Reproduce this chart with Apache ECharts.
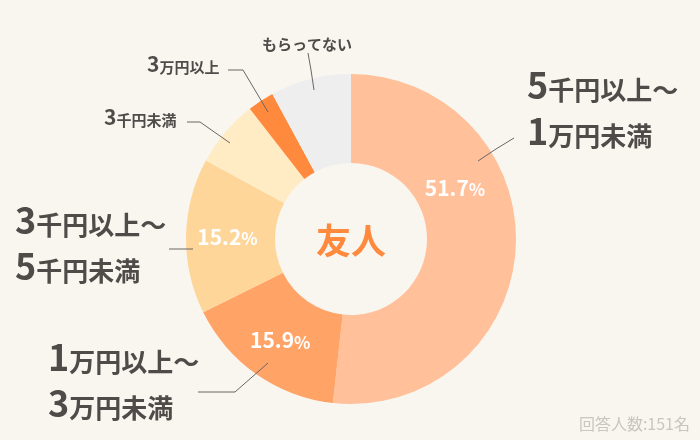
<!DOCTYPE html>
<html lang="ja">

<head>
    <meta charset="UTF-8">
    <title>友人</title>
    <script src="https://cdn.jsdelivr.net/npm/echarts@6/dist/echarts.min.js"></script>
    <style>
        html, body { margin: 0; padding: 0; background: #f9f6f0; }
    </style>
</head>

<body>
    <div id="main" style="width: 700px;height:440px;"></div>
    <script>
        // データ
        var categories = ['5千円以上〜1万円未満', '1万円以上〜3万円未満', '3千円以上〜5千円未満', '3千円未満', '3万円以上', 'もらってない'];
        var values = [51.7, 15.9, 15.2, 6.6, 2.6, 7.9];
        var colors = ['#ffc09a', '#ffa366', '#ffd699', '#ffecc4', '#ff8a3d', '#eeeeee'];
        var centerTitle = '友人';
        var footNote = '回答人数:151名';

        var FONT = '"Noto Sans CJK JP", "Noto Sans", sans-serif';
        var TEXT = '#4f4b49';
        var LINE = '#6b6665';

        // 外側ラベルの位置と引き出し線
        var outerSpots = [
            { x: 527, y: 103, line: [[478, 161], [496, 149], [514, 138]] },
            { x: 48, y: 375, line: [[268, 363], [235, 392], [198, 392]] },
            { x: 15, y: 238, line: [[193, 249], [181, 249], [169, 249]] },
            { x: 104, y: 116, line: [[230, 143], [200, 122], [187, 122]] },
            { x: 147, y: 63, line: [[268, 112], [243, 70], [228, 70]] },
            { x: 262, y: 40, line: [[314, 90], [311, 70], [308, 53]] }
        ];

        function richName(name, big) {
            var cut = name.indexOf('〜');
            var lines = (big && cut > 0) ? [name.slice(0, cut + 1), name.slice(cut + 1)] : [name];
            return lines.map(function (l) {
                return l.replace(/(\d+)|([^\d]+)/g, function (m, d) {
                    return '{' + (d ? (big ? 'bn' : 'sn') : (big ? 'bk' : 'sk')) + '|' + m + '}';
                });
            }).join('\n');
        }

        var myChart = echarts.init(document.getElementById('main'));
        var option = {
            backgroundColor: '#f9f6f0',
            animation: false,
            textStyle: { fontFamily: FONT },
            graphic: [
                {
                    type: 'text',
                    x: 351,
                    y: 241,
                    style: {
                        text: centerTitle,
                        fill: '#ff8a3d',
                        font: 'bold 35px ' + FONT,
                        align: 'center',
                        verticalAlign: 'middle'
                    }
                },
                {
                    type: 'text',
                    right: 10,
                    bottom: 8,
                    style: {
                        text: footNote,
                        fill: '#c9c5c0',
                        font: '16px ' + FONT
                    }
                }
            ],
            series: [
                {
                    // 扇形と内側の割合
                    type: 'pie',
                    z: 2,
                    center: [351, 239],
                    radius: [76, 165],
                    startAngle: 90,
                    clockwise: true,
                    avoidLabelOverlap: false,
                    silent: true,
                    itemStyle: { borderWidth: 0 },
                    label: {
                        position: 'inside',
                        formatter: function (p) {
                            return '{p|' + p.value.toFixed(1) + '}{u|%}';
                        },
                        rich: {
                            p: { color: '#fff', fontSize: 21, fontWeight: 'bold', fontFamily: FONT, verticalAlign: 'bottom' },
                            u: { color: '#fff', fontSize: 17, fontWeight: 'bold', fontFamily: FONT, verticalAlign: 'bottom' }
                        }
                    },
                    labelLine: { show: false },
                    labelLayout: function (p) {
                        if (p.dataIndex === 0) {
                            return { x: 455, y: 188, align: 'center', verticalAlign: 'middle' };
                        }
                        return {};
                    },
                    data: categories.map(function (c, i) {
                        return {
                            name: c,
                            value: values[i],
                            itemStyle: { color: colors[i] },
                            label: { show: i < 3 }
                        };
                    })
                },
                {
                    // 外側の項目名（引き出し線を扇形の上に描く）
                    type: 'pie',
                    z: 5,
                    center: [351, 239],
                    radius: [76, 165],
                    startAngle: 90,
                    clockwise: true,
                    avoidLabelOverlap: false,
                    silent: true,
                    itemStyle: { color: 'rgba(0,0,0,0)', borderWidth: 0 },
                    label: {
                        position: 'outside',
                        formatter: function (p) {
                            return richName(p.name, p.dataIndex < 3);
                        },
                        rich: {
                            bn: { color: TEXT, fontSize: 36, fontWeight: 'bold', fontFamily: FONT, lineHeight: 46, verticalAlign: 'bottom' },
                            bk: { color: TEXT, fontSize: 26, fontWeight: 'bold', fontFamily: FONT, lineHeight: 46, verticalAlign: 'bottom' },
                            sn: { color: TEXT, fontSize: 21, fontWeight: 'bold', fontFamily: FONT, lineHeight: 24, verticalAlign: 'bottom' },
                            sk: { color: TEXT, fontSize: 15, fontWeight: 'bold', fontFamily: FONT, lineHeight: 24, verticalAlign: 'bottom' }
                        }
                    },
                    labelLine: {
                        show: true,
                        lineStyle: { color: LINE, width: 1 }
                    },
                    labelLayout: function (p) {
                        var s = outerSpots[p.dataIndex];
                        return {
                            x: s.x,
                            y: s.y,
                            align: 'left',
                            verticalAlign: 'middle',
                            labelLinePoints: s.line
                        };
                    },
                    data: categories.map(function (c, i) {
                        return { name: c, value: values[i] };
                    })
                }
            ]
        };
        myChart.setOption(option);
    </script>
</body>

</html>
